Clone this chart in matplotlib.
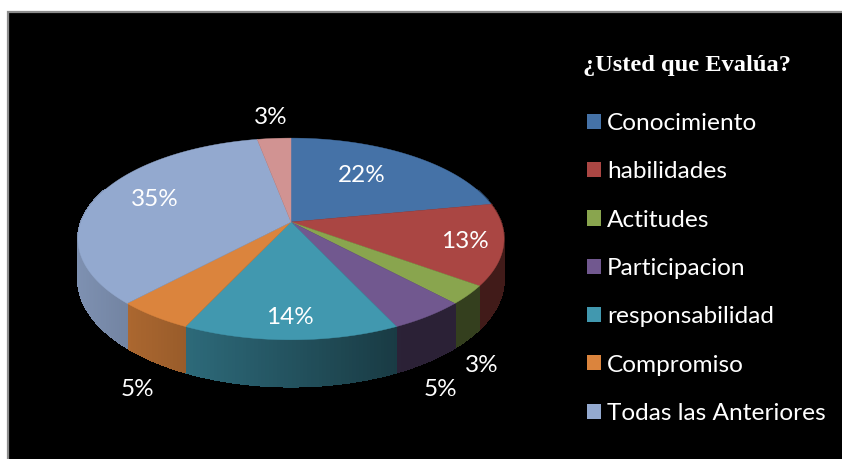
import numpy as np
import matplotlib
matplotlib.use("Agg")
import matplotlib.pyplot as plt
from matplotlib.patches import Rectangle, Patch
from matplotlib.colors import to_rgb

# Data
categories = ["Conocimiento", "habilidades", "Actitudes", "Participacion",
              "responsabilidad", "Compromiso", "Todas las Anteriores"]
values = [22, 13, 3, 5, 14, 5, 35, 3]
colors = ["#4572A7", "#AA4643", "#89A54E", "#71588F", "#4198AF", "#DB843D", "#93A9CF", "#D19392"]
title = "¿Usted que Evalúa?"

# Layout (pixel space)
W, H = 842, 459
CX, CY, RX, RY, K, DEPTH = 291, 222, 210, 98, 0.168, 39
label_xy = [(362, 175), (465, 242), (482, 365), (440, 390),
            (290, 317), (137, 390), (155, 200), (271, 118)]

plt.rcParams["font.family"] = ["Lato", "DejaVu Sans"]
fig = plt.figure(figsize=(W / 100, H / 100), dpi=100, facecolor="white")
ax = fig.add_axes([0, 0, 1, 1])
ax.set_xlim(0, W)
ax.set_ylim(H, 0)
ax.axis("off")
ax.add_patch(Rectangle((8, 12), W + 10, H + 10, facecolor="black", edgecolor="#8c8c8c", linewidth=1.6))


def project(theta, r=1.0, drop=0.0):
    s, c = r * np.cos(theta), r * np.sin(theta)
    w = 1 / (1 + K * s)
    return CX + RX * c * w, CY - RY * s * w + drop * w


edges = np.cumsum([0] + values) / sum(values) * 2 * np.pi

# Side wall, shaded from left to right
for a, b, col in zip(edges[:-1], edges[1:], colors):
    base = np.array(to_rgb(col))
    n = max(int((b - a) / 0.015), 2)
    th = np.linspace(a, b, n + 1)
    for t0, t1 in zip(th[:-1], th[1:]):
        if np.cos((t0 + t1) / 2) > 0.35:
            continue
        x0, y0 = project(t0)
        x1, y1 = project(t1)
        x2, y2 = project(t1, drop=DEPTH)
        x3, y3 = project(t0, drop=DEPTH)
        f = np.clip(0.85 - (0.5 * (x0 + x1) - 80) / 320 * 0.47, 0.38, 0.85)
        ax.fill([x0, x1, x2, x3], [y0, y1, y2, y3], color=base * f, lw=0.6, antialiased=False, zorder=2)

# Top face
for a, b, col in zip(edges[:-1], edges[1:], colors):
    th = np.linspace(a, b, 120)
    x, y = project(th)
    ax.fill(np.r_[CX, x], np.r_[CY, y], color=col, lw=0.3, zorder=3)

# Percent labels
for v, (x, y) in zip(values, label_xy):
    ax.text(x, y, f"{v}%", color="white", fontsize=17.5, ha="center", va="center", zorder=5)

# Title and legend
ax.text(583, 65, title, color="white", fontsize=17.6, fontweight="bold",
        family="Liberation Serif", ha="left", va="center")
handles = [Patch(facecolor=c, edgecolor="none") for c in colors[:len(categories)]]
leg = ax.legend(handles, categories, loc="upper left", bbox_to_anchor=(587 / W, 1 - 113 / H),
                frameon=False, fontsize=17.55, labelcolor="white", handlelength=0.58, handleheight=0.58,
                handletextpad=0.25, labelspacing=1.12, borderpad=0, borderaxespad=0)

fig.savefig("out.png", dpi=100, facecolor="white")
